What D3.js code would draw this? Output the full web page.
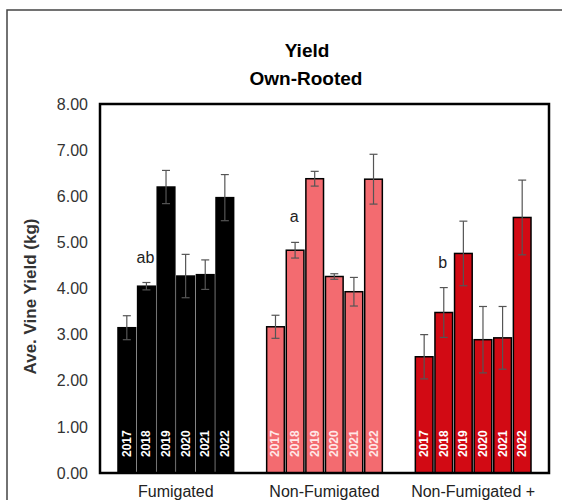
<!DOCTYPE html>
<html>
<head>
<meta charset="utf-8">
<script src="https://cdn.jsdelivr.net/npm/d3@7"></script>
<style>
  body { margin: 0; background: #fff; }
  svg { display: block; font-family: Arial, "Liberation Sans", sans-serif; }
</style>
</head>
<body>
<svg id="chart" width="562" height="500"></svg>
<script>
// data
var groups = ["Fumigated", "Non-Fumigated", "Non-Fumigated +"];
var years = ["2017", "2018", "2019", "2020", "2021", "2022"];
var fumigated = [3.15, 4.05, 6.20, 4.27, 4.30, 5.97];
var fumigatedErr = [0.26, 0.08, 0.36, 0.47, 0.32, 0.50];
var nonFumigated = [3.17, 4.83, 6.38, 4.26, 3.93, 6.37];
var nonFumigatedErr = [0.25, 0.17, 0.16, 0.06, 0.31, 0.54];
var nonFumigatedPlus = [2.52, 3.48, 4.76, 2.89, 2.93, 5.54];
var nonFumigatedPlusErr = [0.48, 0.54, 0.70, 0.72, 0.68, 0.81];
var groupColors = ["#000000", "#f36b70", "#d20a14"];
var yearTextColors = ["#ffffff", "#ffe8e8", "#ffffff"];
// significance letters: group, year they sit over, height in kg
var letters = [
  { group: "Fumigated", year: "2018", text: "ab", y: 4.55 },
  { group: "Non-Fumigated", year: "2018", text: "a", y: 5.45 },
  { group: "Non-Fumigated +", year: "2018", text: "b", y: 4.45 }
];
var yTicks = [0, 1, 2, 3, 4, 5, 6, 7, 8];

var means = [fumigated, nonFumigated, nonFumigatedPlus];
var errs = [fumigatedErr, nonFumigatedErr, nonFumigatedPlusErr];

var svg = d3.select("#chart");

// plot area
var plotLeft = 100, plotRight = 549, plotTop = 104, plotBottom = 473;

var x0 = d3.scaleBand()
  .domain(groups)
  .range([plotLeft, plotRight])
  .paddingInner(0.222)
  .paddingOuter(0.121);

var x1 = d3.scaleBand()
  .domain(years)
  .range([0, x0.bandwidth()])
  .paddingInner(0.1);

var y = d3.scaleLinear()
  .domain([0, 8])
  .range([plotBottom, plotTop]);

// outer frame of the figure
svg.append("path")
  .attr("d", "M7,520 L7,10 L570,10")
  .attr("fill", "none")
  .attr("stroke", "#444")
  .attr("stroke-width", 1.5);

// title
svg.append("text")
  .attr("x", 307).attr("y", 57)
  .attr("text-anchor", "middle")
  .style("font-size", "19px").style("font-weight", "bold")
  .text("Yield");
svg.append("text")
  .attr("x", 306).attr("y", 85)
  .attr("text-anchor", "middle")
  .style("font-size", "19px").style("font-weight", "bold")
  .text("Own-Rooted");

// y axis labels (no tick marks)
var yAxis = svg.append("g")
  .attr("transform", "translate(" + plotLeft + ",0)")
  .call(d3.axisLeft(y).tickValues(yTicks).tickFormat(d3.format(".2f")).tickSize(0).tickPadding(12));
yAxis.select(".domain").remove();
yAxis.selectAll("text")
  .style("font-size", "16px")
  .style("font-family", "Arial, 'Liberation Sans', sans-serif")
  .attr("fill", "#333");

// y axis title
svg.append("text")
  .attr("transform", "translate(36," + ((plotTop + plotBottom) / 2 + 8) + ") rotate(-90)")
  .attr("text-anchor", "middle")
  .style("font-size", "17px").style("font-weight", "bold")
  .attr("fill", "#333")
  .text("Ave. Vine Yield (kg)");

// bars
groups.forEach(function (g, gi) {
  var gEl = svg.append("g").attr("transform", "translate(" + x0(g) + ",0)");
  var rows = years.map(function (yr, i) {
    return { year: yr, value: means[gi][i], err: errs[gi][i] };
  });

  gEl.selectAll("rect")
    .data(rows)
    .enter().append("rect")
      .attr("x", function (d) { return x1(d.year); })
      .attr("y", function (d) { return y(d.value); })
      .attr("width", x1.bandwidth())
      .attr("height", function (d) { return y(0) - y(d.value); })
      .attr("fill", groupColors[gi])
      .attr("stroke", "#000")
      .attr("stroke-width", 1.5);

  // error bars
  var eb = gEl.selectAll(".err")
    .data(rows)
    .enter().append("g").attr("class", "err")
      .attr("stroke", "#555")
      .attr("stroke-width", 1.2);
  eb.append("line")
    .attr("x1", function (d) { return x1(d.year) + x1.bandwidth() / 2; })
    .attr("x2", function (d) { return x1(d.year) + x1.bandwidth() / 2; })
    .attr("y1", function (d) { return y(d.value - d.err); })
    .attr("y2", function (d) { return y(d.value + d.err); });
  eb.append("line")
    .attr("x1", function (d) { return x1(d.year) + x1.bandwidth() / 2 - 4; })
    .attr("x2", function (d) { return x1(d.year) + x1.bandwidth() / 2 + 4; })
    .attr("y1", function (d) { return y(d.value + d.err); })
    .attr("y2", function (d) { return y(d.value + d.err); });
  eb.append("line")
    .attr("x1", function (d) { return x1(d.year) + x1.bandwidth() / 2 - 4; })
    .attr("x2", function (d) { return x1(d.year) + x1.bandwidth() / 2 + 4; })
    .attr("y1", function (d) { return y(d.value - d.err); })
    .attr("y2", function (d) { return y(d.value - d.err); });

  // year labels inside the bars
  gEl.selectAll(".yr")
    .data(rows)
    .enter().append("text").attr("class", "yr")
      .attr("transform", function (d) {
        return "translate(" + (x1(d.year) + x1.bandwidth() / 2 + 4) + "," + (plotBottom - 16) + ") rotate(-90)";
      })
      .attr("text-anchor", "start")
      .style("font-size", "12px").style("font-weight", "bold")
      .attr("fill", yearTextColors[gi])
      .text(function (d) { return d.year; });
});

// significance letters
svg.selectAll(".letter")
  .data(letters)
  .enter().append("text").attr("class", "letter")
    .attr("x", function (d) { return x0(d.group) + x1(d.year) + x1.bandwidth() / 2 - 1; })
    .attr("y", function (d) { return y(d.y); })
    .attr("text-anchor", "middle")
    .style("font-size", "16px")
    .attr("fill", "#222")
    .text(function (d) { return d.text; });

// plot frame
svg.append("rect")
  .attr("x", plotLeft).attr("y", plotTop)
  .attr("width", plotRight - plotLeft).attr("height", plotBottom - plotTop)
  .attr("fill", "none")
  .attr("stroke", "#000")
  .attr("stroke-width", 2.5);

// group labels
svg.selectAll(".grp")
  .data(groups)
  .enter().append("text").attr("class", "grp")
    .attr("x", function (d) { return x0(d) + x0.bandwidth() / 2; })
    .attr("y", 497)
    .attr("text-anchor", "middle")
    .style("font-size", "16px")
    .attr("fill", "#222")
    .text(function (d) { return d; });
</script>
</body>
</html>
